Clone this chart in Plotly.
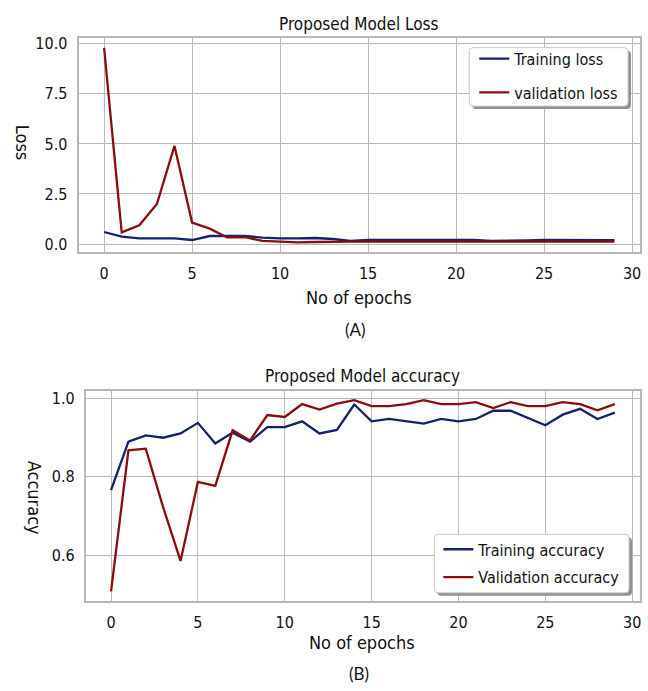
import plotly.graph_objects as go

# Epoch index shared by both panels
epochs = list(range(30))

# Loss curves
train_loss = [0.60, 0.37, 0.28, 0.28, 0.28, 0.20, 0.40, 0.40, 0.40, 0.32,
              0.28, 0.28, 0.30, 0.25, 0.16, 0.20, 0.20, 0.20, 0.20, 0.19,
              0.19, 0.20, 0.16, 0.16, 0.18, 0.20, 0.19, 0.19, 0.19, 0.19]
val_loss = [9.80, 0.58, 0.94, 2.00, 4.90, 1.07, 0.77, 0.33, 0.34, 0.16,
            0.12, 0.08, 0.10, 0.12, 0.12, 0.12, 0.12, 0.12, 0.12, 0.10,
            0.10, 0.12, 0.12, 0.12, 0.12, 0.12, 0.12, 0.12, 0.12, 0.12]

# Accuracy curves
train_acc = [0.766, 0.890, 0.906, 0.900, 0.911, 0.938, 0.885, 0.913, 0.890, 0.927,
             0.927, 0.942, 0.911, 0.920, 0.985, 0.942, 0.948, 0.942, 0.936, 0.948,
             0.942, 0.948, 0.969, 0.969, 0.951, 0.932, 0.959, 0.974, 0.948, 0.964]
val_acc = [0.507, 0.868, 0.872, 0.722, 0.585, 0.787, 0.777, 0.919, 0.893, 0.958,
           0.953, 0.986, 0.972, 0.987, 0.996, 0.981, 0.981, 0.986, 0.996, 0.986,
           0.986, 0.991, 0.976, 0.991, 0.981, 0.981, 0.991, 0.986, 0.970, 0.986]

loss_ticks = [0.0, 2.5, 5.0, 7.5, 10.0]
acc_ticks = [0.6, 0.8, 1.0]
epoch_ticks = [0, 5, 10, 15, 20, 25, 30]

W, H = 648, 691
NAVY = "#13226a"
DARKRED = "#8a0c0c"
GRID = "#b8b8b8"
FONT = "DejaVu Sans Condensed, Liberation Sans Narrow, DejaVu Sans, sans-serif"
CAPTION_FONT = "Lato, Open Sans, sans-serif"
LINE_W = 2.3


def px_x(p):
    return p / W


def px_y(p):
    return 1 - p / H


def rounded_box(x0, y0, x1, y1, r=4):
    """SVG path (paper coords) for a rounded rectangle given in pixels."""
    X = px_x
    Y = px_y
    return (f"M {X(x0 + r)},{Y(y0)} L {X(x1 - r)},{Y(y0)} "
            f"Q {X(x1)},{Y(y0)} {X(x1)},{Y(y0 + r)} "
            f"L {X(x1)},{Y(y1 - r)} Q {X(x1)},{Y(y1)} {X(x1 - r)},{Y(y1)} "
            f"L {X(x0 + r)},{Y(y1)} Q {X(x0)},{Y(y1)} {X(x0)},{Y(y1 - r)} "
            f"L {X(x0)},{Y(y0 + r)} Q {X(x0)},{Y(y0)} {X(x0 + r)},{Y(y0)} Z")


fig = go.Figure()

fig.add_trace(go.Scatter(x=epochs, y=train_loss, mode="lines", name="Training loss",
                         line=dict(color=NAVY, width=LINE_W), xaxis="x", yaxis="y",
                         legend="legend", legendgroup="a1"))
fig.add_trace(go.Scatter(x=epochs, y=val_loss, mode="lines", name="validation loss",
                         line=dict(color=DARKRED, width=LINE_W), xaxis="x", yaxis="y",
                         legend="legend", legendgroup="a2"))
fig.add_trace(go.Scatter(x=epochs, y=train_acc, mode="lines", name="Training accuracy",
                         line=dict(color=NAVY, width=LINE_W), xaxis="x2", yaxis="y2",
                         legend="legend2", legendgroup="b1"))
fig.add_trace(go.Scatter(x=epochs, y=val_acc, mode="lines", name="Validation accuracy",
                         line=dict(color=DARKRED, width=LINE_W), xaxis="x2", yaxis="y2",
                         legend="legend2", legendgroup="b2"))

axis_common = dict(showgrid=True, gridcolor=GRID, gridwidth=1, zeroline=False,
                   showline=True, linecolor=GRID, linewidth=2, mirror=True,
                   ticks="", tickfont=dict(family=FONT, size=16, color="#111111"))

legend_common = dict(xanchor="left", yanchor="top",
                     bgcolor="rgba(0,0,0,0)", borderwidth=0,
                     font=dict(family=FONT, size=16, color="#111111"),
                     traceorder="grouped", itemwidth=30)

fig.update_layout(
    width=W, height=H,
    margin=dict(l=0, r=0, t=0, b=0),
    paper_bgcolor="white", plot_bgcolor="white",
    showlegend=True,
    xaxis=dict(axis_common, domain=[px_x(78.7), px_x(641)], range=[-1.45, 30.45],
               tickvals=epoch_ticks, anchor="y", ticklabelstandoff=6),
    yaxis=dict(axis_common, domain=[px_y(250), px_y(34.3)], range=[-0.39, 10.29],
               tickvals=loss_ticks, tickformat=".1f", anchor="x", ticklabelstandoff=6),
    xaxis2=dict(axis_common, domain=[px_x(86), px_x(641)], range=[-1.45, 30.45],
                tickvals=epoch_ticks, anchor="y2", ticklabelstandoff=6),
    yaxis2=dict(axis_common, domain=[px_y(602), px_y(390)], range=[0.483, 1.0205],
                tickvals=acc_ticks, tickformat=".1f", anchor="x2", ticklabelstandoff=6),
    legend=dict(legend_common, x=px_x(475), y=px_y(38), tracegroupgap=10),
    legend2=dict(legend_common, x=px_x(439), y=px_y(533), tracegroupgap=4),
)

annotations = [
    dict(text="Proposed Model Loss", x=px_x(360), y=px_y(20), size=17),
    dict(text="No of epochs", x=px_x(360), y=px_y(296), size=18),
    dict(text="Loss", x=px_x(22), y=px_y(140), size=18, angle=90),
    dict(text="Proposed Model accuracy", x=px_x(363), y=px_y(375), size=17),
    dict(text="No of epochs", x=px_x(363), y=px_y(644), size=18),
    dict(text="Accuracy", x=px_x(34), y=px_y(498), size=18, angle=90),
]
for a in annotations:
    fig.add_annotation(text=a["text"], x=a["x"], y=a["y"], xref="paper", yref="paper",
                       xanchor="center", yanchor="middle", showarrow=False,
                       textangle=a.get("angle", 0),
                       font=dict(family=FONT, size=a["size"], color="#111111"))

for cap, cx, cy in [("(A)", 356, 328), ("(B)", 360, 675)]:
    fig.add_annotation(text=cap, x=px_x(cx), y=px_y(cy), xref="paper", yref="paper",
                       xanchor="center", yanchor="middle", showarrow=False,
                       font=dict(family=CAPTION_FONT, size=17, color="#111111"))

# Legend frames: a grey drop shadow, then the white rounded box on top of it
for x0, y0, x1, y1 in [(470, 44, 629, 103), (435, 535, 630, 594)]:
    fig.add_shape(type="path", xref="paper", yref="paper",
                  path=rounded_box(x0 + 3, y0 + 3, x1 + 3, y1 + 3),
                  fillcolor="#909090", line=dict(width=0), layer="above")
    fig.add_shape(type="path", xref="paper", yref="paper",
                  path=rounded_box(x0, y0, x1, y1),
                  fillcolor="white", line=dict(color="#c8c8c8", width=1), layer="above")

fig.write_html("out.html")
